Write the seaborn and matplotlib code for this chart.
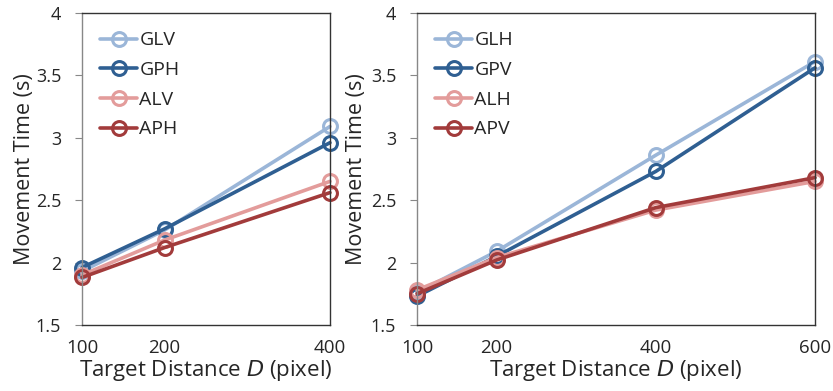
import pandas as pd
import matplotlib.pyplot as plt
import seaborn as sns

# values
dist_left = [100, 200, 400]
glv = [1.93, 2.26, 3.09]
gph = [1.96, 2.27, 2.96]
alv = [1.90, 2.18, 2.65]
aph = [1.88, 2.12, 2.56]

dist_right = [100, 200, 400, 600]
glh = [1.76, 2.09, 2.86, 3.61]
gpv = [1.73, 2.05, 2.73, 3.56]
alh = [1.78, 2.04, 2.42, 2.65]
apv = [1.75, 2.02, 2.44, 2.68]

left_names = ["GLV", "GPH", "ALV", "APH"]
right_names = ["GLH", "GPV", "ALH", "APV"]
colors = ["#9bb6d8", "#2f5f92", "#e39c9b", "#a23b3b"]

sns.set_theme(style="white")
plt.rcParams["font.family"] = ["Open Sans", "DejaVu Sans"]

fig = plt.figure(figsize=(8.33, 3.91), dpi=100)
ax1 = fig.add_axes([0.0984, 0.169, 0.2977, 0.798])
ax2 = fig.add_axes([0.5006, 0.169, 0.4778, 0.798])

panels = [(ax1, dist_left, [glv, gph, alv, aph], left_names, -0.19),
          (ax2, dist_right, [glh, gpv, alh, apv], right_names, -0.125)]

for ax, dist, series, names, ylab_x in panels:
    for vals, name, c in zip(series, names, colors):
        df = pd.DataFrame({"D": dist, "MT": vals})
        sns.lineplot(data=df, x="D", y="MT", color=c, label=name,
                     marker="o", markersize=10, markerfacecolor="none",
                     markeredgecolor=c, markeredgewidth=2.2,
                     linewidth=2.6, ax=ax, clip_on=False)
    ax.set_xlim(dist[0], dist[-1])
    ax.set_ylim(1.5, 4)
    ax.set_yticks([1.5, 2, 2.5, 3, 3.5, 4])
    ax.set_yticklabels(["1.5", "2", "2.5", "3", "3.5", "4"])
    ax.set_xticks(dist)
    ax.tick_params(axis="y", length=5, width=0.8, color="#888888",
                   labelsize=13, pad=10, left=True)
    ax.tick_params(axis="x", length=0, labelsize=13.5, pad=10)
    for s in ax.spines.values():
        s.set_color("#333333")
        s.set_linewidth(1.0)
    ax.spines["left"].set_color("#888888")
    ax.set_xlabel("Target Distance $\\mathit{D}$ (pixel)", fontsize=16,
                  labelpad=1)
    ax.set_ylabel("Movement Time (s)", fontsize=15.5)
    ax.yaxis.set_label_coords(ylab_x, 0.5)
    ax.legend(frameon=False, loc="upper left", fontsize=14,
              handlelength=1.9, handletextpad=0.1, labelspacing=0.6,
              borderaxespad=0.55)

fig.savefig("out.png", dpi=100)
